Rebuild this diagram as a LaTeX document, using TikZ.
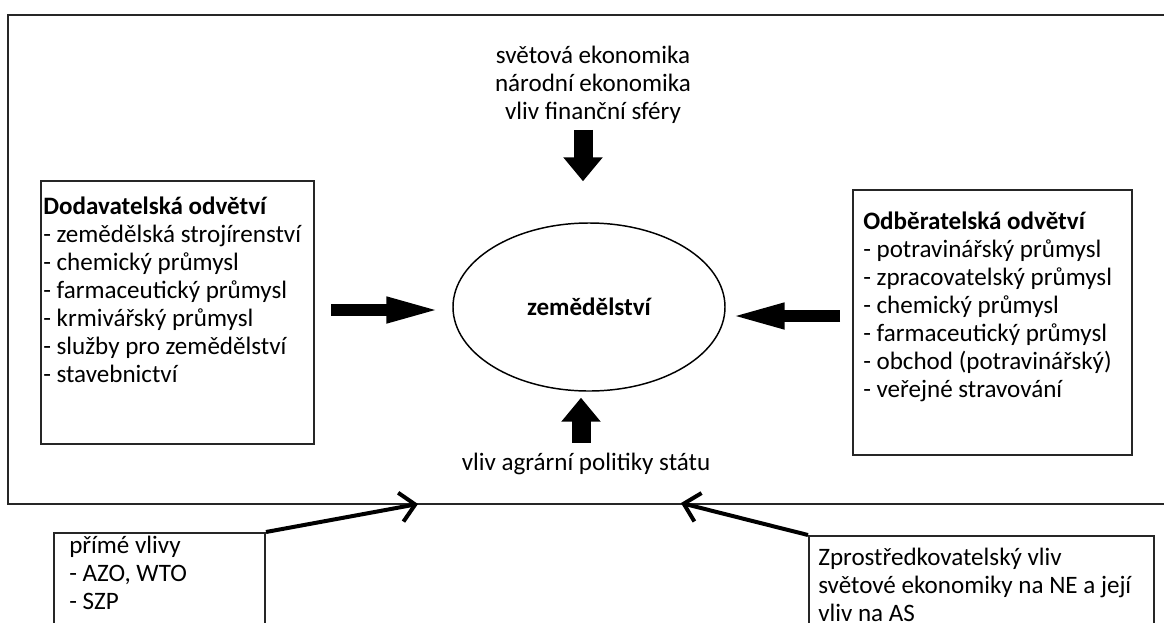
\documentclass[tikz,border=0pt]{standalone}
\usepackage{fontspec}
\setmainfont{Carlito}
\usetikzlibrary{shapes.geometric,arrows.meta,positioning}

\begin{document}
\begin{tikzpicture}[x=0.75pt,y=-0.75pt,
    panel/.style={draw=black!85, line width=1.5pt, anchor=north west},
    listtext/.style={anchor=north west, align=left},
    blockarrow/.style={line width=9pt, -{Triangle[length=42.75pt,width=17.25pt]}},
    vertarrow/.style={line width=14.25pt, -{Triangle[length=18pt,width=28.5pt]}},
    pointer/.style={line width=3pt, -{Straight Barb[length=11pt,width=22pt]}}]
    \tikzstyle{every node}+=[inner sep=0pt, font=\fontsize{18.8}{21}\selectfont]
    \useasboundingbox (0,0) rectangle (1164,622);
    % outer frame
    \draw [black!85, line width=1.5pt] (8,15) rectangle (1172,504);
    % centre
    \node [ellipse, draw, line width=1.1pt, minimum width=204pt, minimum height=126pt,
      font=\fontsize{18.8}{21}\selectfont\bfseries] (agri) at (589,307) {zemědělství};
    \node [align=center] (world) at (593,85) {světová ekonomika\\národní ekonomika\\vliv finanční sféry};
    \node (policy) at (586,464) {vliv agrární politiky státu};
    % side boxes
    \node [panel, minimum width=204.75pt, minimum height=197.25pt] (supply) at (40,180) {};
    \node [listtext] (supplytext) at (43,197) {\textbf{Dodavatelská odvětví}\\- zemědělská strojírenství\\- chemický průmysl\\- farmaceutický průmysl\\- krmivářský průmysl\\- služby pro zemědělství\\- stavebnictví};
    \node [panel, minimum width=209.25pt, minimum height=198.75pt] (demand) at (852,189) {};
    \node [listtext] (demandtext) at (863,212) {\textbf{Odběratelská odvětví}\\- potravinářský průmysl\\- zpracovatelský průmysl\\- chemický průmysl\\- farmaceutický průmysl\\- obchod (potravinářský)\\- veřejné stravování};
    % bottom boxes
    \node [panel, minimum width=158.25pt, minimum height=88.5pt] (direct) at (53,532) {};
    \node [listtext] (directtext) at (69,536) {přímé vlivy\\- AZO, WTO\\- SZP};
    \node [panel, minimum width=258.75pt, minimum height=86.25pt] (mediated) at (808,535) {};
    \node [listtext] (mediatedtext) at (818,548) {Zprostředkovatelský vliv\\světové ekonomiky na NE a její\\vliv na AS};
    % block arrows
    \draw [blockarrow, shorten <=12pt, shorten >=6.75pt] (supply.east |- 0,310) -- (agri.west |- 0,310);
    \draw [blockarrow, shorten <=9pt, shorten >=1.5pt] (demand.west |- 0,316) -- (agri.east |- 0,316);
    \draw [vertarrow, shorten <=4.5pt, shorten >=30.75pt] (world.south -| 583,0) -- (agri.north -| 583,0);
    \draw [vertarrow, shorten <=7.5pt, shorten >=4.5pt] (policy.north -| 581,0) -- (agri.south -| 581,0);
    % pointers onto the frame
    \coordinate (hitL) at (418,504);
    \coordinate (hitR) at (681,503);
    \draw [pointer] (direct.north east) -- (hitL);
    \draw [pointer] (mediated.north west) -- (hitR);
\end{tikzpicture}
\end{document}
